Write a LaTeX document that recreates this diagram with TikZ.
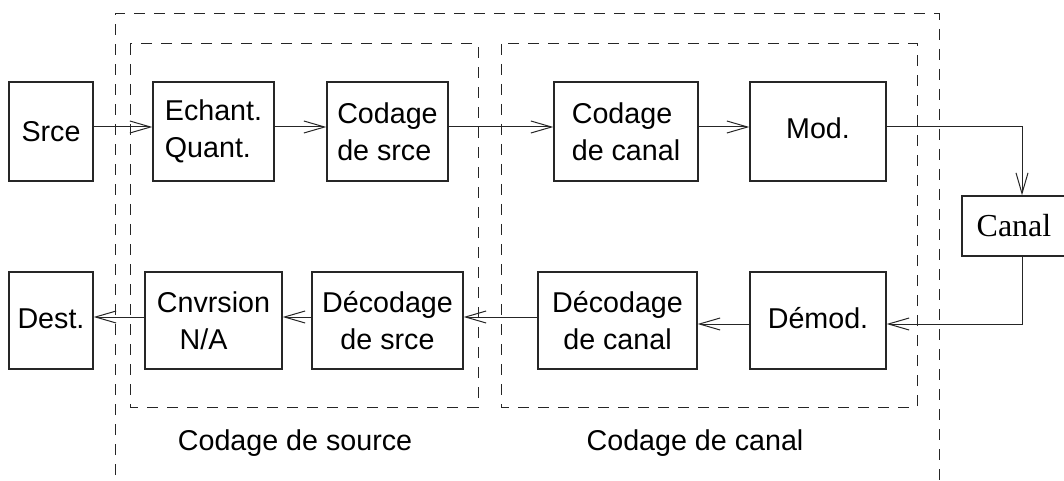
\documentclass[tikz,border=0pt]{standalone}
\usepackage{fontspec}
\setmainfont{Liberation Sans}
\newfontfamily\timesfont{Liberation Serif}
\usetikzlibrary{arrows.meta}
\begin{document}
\begin{tikzpicture}[x=0.75pt,y=-0.75pt,
  blk/.style={draw=black!85, line width=1pt, inner sep=0pt,
    minimum height=#1, font=\fontsize{21.5}{27.75}\selectfont},
  blk/.default=74.25pt,
  arr/.style={draw=black!85, line width=0.75pt,
    -{Straight Barb[length=15.5pt,width=9pt,line width=0.75pt]}},
  zone/.style={draw=black!85, line width=0.75pt, dash pattern=on 8.5pt off 6.5pt},
  caption/.style={font=\fontsize{21.5}{26}\selectfont}]
\useasboundingbox (0,0) rectangle (1064,481);

% rows of the signal path
\coordinate (r1) at (0,127);
\coordinate (r2) at (0,317);
\coordinate (r3) at (0,324);
\coordinate (cx) at (1022,0);

% dashed grouping frames
\draw[zone] (115,495) -- (115,14) -- (939,14) -- (939,495);
\draw[zone] (130,44) rectangle (478,407);
\draw[zone] (501,44) rectangle (917,407);

% transmit chain
\node[blk, minimum width=63pt]    (srce)   at (51,131.5)    {Srce};
\node[blk, minimum width=90.75pt, align=left] (echant) at (213.5,131.5) {Echant.\\Quant.};
\node[blk, minimum width=90.75pt, align=left] (cods)   at (387.5,131.5) {Codage\\de srce};
\node[blk, minimum width=108pt,   align=left] (codc)   at (626,131.5)   {Codage\\de canal};
\node[blk, minimum width=102pt]   (mod)    at (818,131.5)   {\raisebox{4.5pt}{Mod.}};

% channel
\node[draw=black!85, line width=1pt, minimum width=78pt, minimum height=45pt,
      inner sep=0pt, font=\timesfont\fontsize{24}{28}\selectfont] (canal) at (1014,226) {Canal};

% receive chain
\node[blk=72.75pt, minimum width=63pt]     (dest)  at (51,320.5)    {\raisebox{3.5pt}{Dest.}};
\node[blk=72.75pt, minimum width=102.75pt, align=left] (cnv)   at (213.5,320.5) {Cnvrsion\\\hspace*{17pt}N/A};
\node[blk=72.75pt, minimum width=113.25pt, align=center] (decs) at (387.5,320.5) {Décodage\\de srce};
\node[blk=72.75pt, minimum width=119.25pt, align=center] (decc) at (617.5,320.5) {Décodage\\de canal};
\node[blk=72.75pt, minimum width=102pt]    (demod) at (818,320.5)   {\raisebox{4pt}{Démod.}};

% connectors
\draw[arr] (srce.east |- r1)   -- (echant.west |- r1);
\draw[arr] (echant.east |- r1) -- (cods.west |- r1);
\draw[arr] (cods.east |- r1)   -- (codc.west |- r1);
\draw[arr] (codc.east |- r1)   -- (mod.west |- r1);
\draw[arr] (mod.east |- r1)    -| (canal.north -| cx);
\draw[arr] (canal.south -| cx) |- (demod.east |- r3);
\draw[arr] (demod.west |- r3)  -- (decc.east |- r3);
\draw[arr] (decc.west |- r2)   -- (decs.east |- r2);
\draw[arr] (decs.west |- r2)   -- (cnv.east |- r2);
\draw[arr] (cnv.west |- r2)    -- (dest.east |- r2);

% frame captions
\node[caption] (capsrc) at (295,443) {Codage de source};
\node[caption] (capcan) at (695,443) {Codage de canal};
\end{tikzpicture}
\end{document}
